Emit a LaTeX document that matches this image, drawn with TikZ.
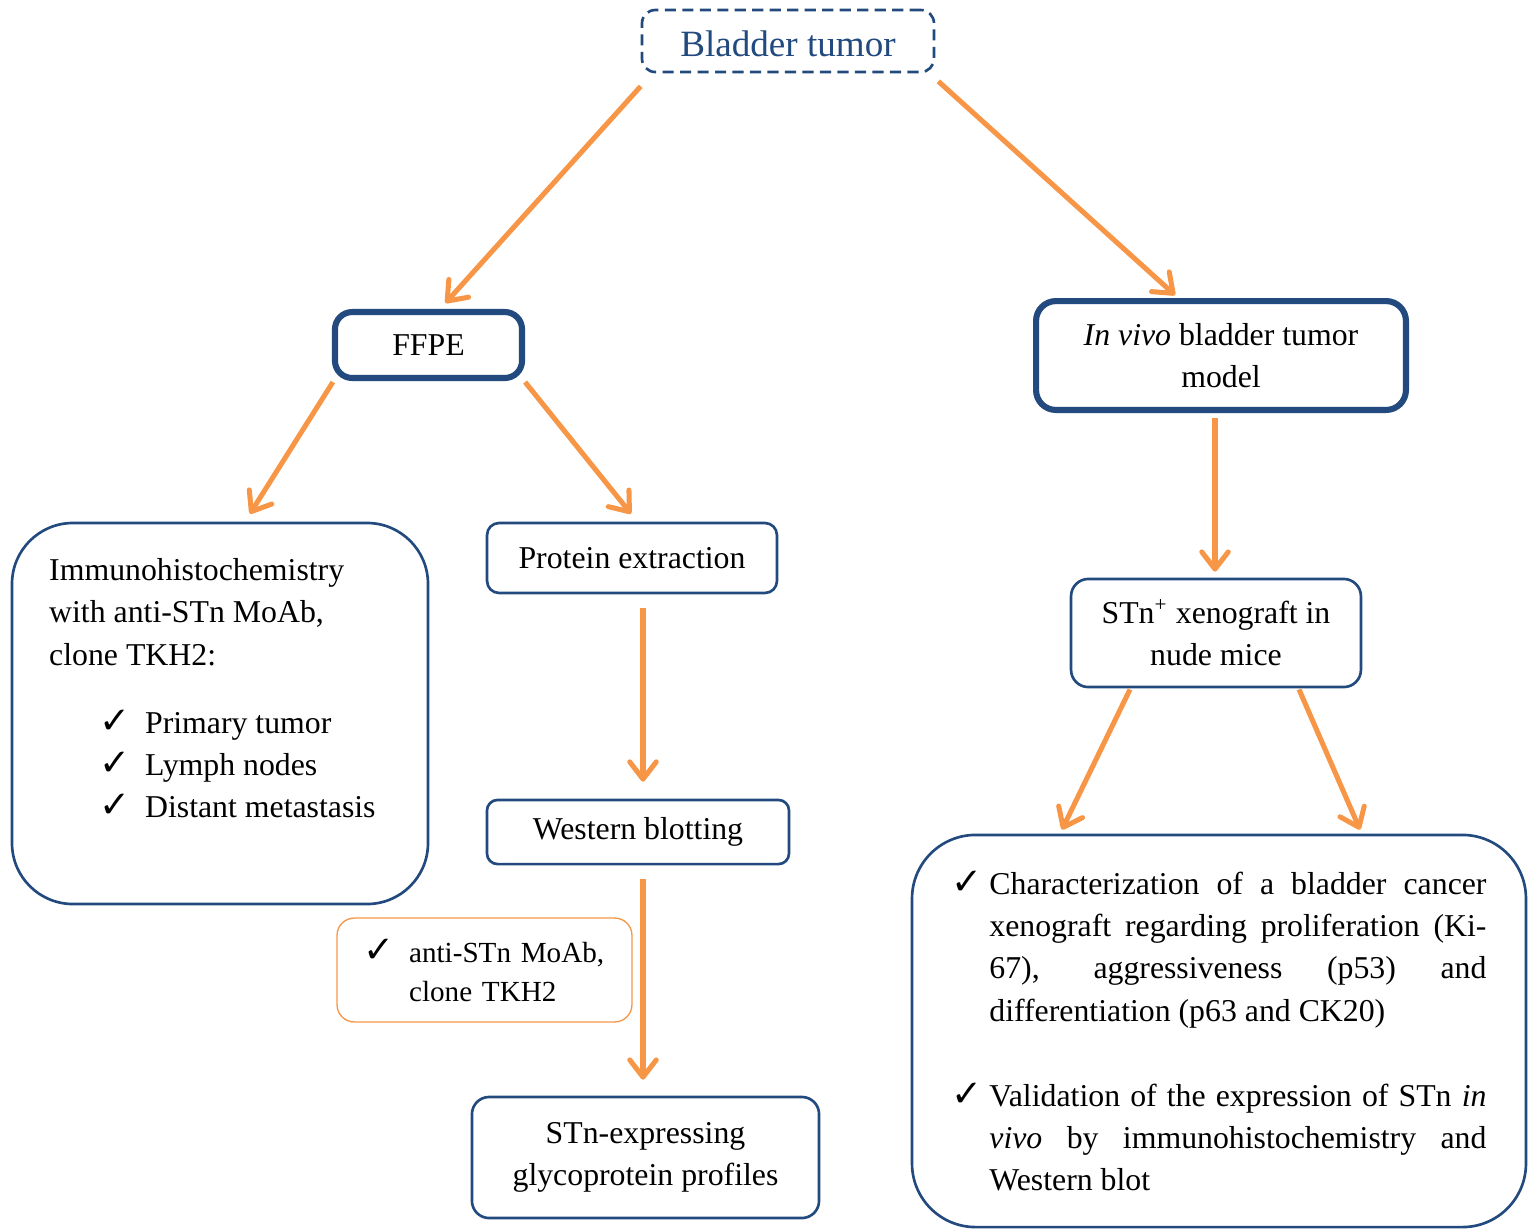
\documentclass[tikz,border=0pt]{standalone}
\usepackage{amsmath}
\usepackage{amssymb}
\usepackage{fontspec}
\setmainfont{Liberation Serif}
\newfontfamily\ticksymbol{DejaVu Sans}
\usepackage{tikz}
\usetikzlibrary{calc, positioning, arrows.meta}
\definecolor{boxblue}{RGB}{34,74,126}
\definecolor{arrorange}{RGB}{247,150,70}
\newcommand{\tick}{{\ticksymbol\fontsize{14}{14}\selectfont ✓}}
\tikzstyle{arrow} = [line width=1.9pt, arrorange, -{Straight Barb[length=6.5pt,width=10pt,round]}]
\tikzstyle{box} = [draw=boxblue, line width=1pt, rounded corners=5pt, inner sep=0pt, align=center, font=\fontsize{12}{16}\selectfont]
\tikzstyle{thickbox} = [box, line width=2.3pt, rounded corners=6.5pt]
\tikzstyle{bigbox} = [box, rounded corners=23pt]

\begin{document}
\begin{tikzpicture}[x=0.3774pt, y=-0.3774pt]
    \useasboundingbox (0,0) rectangle (1528,1229);
    % top
    \node[box, dashed, dash pattern=on 4.2pt off 2.4pt, text=boxblue, font=\fontsize{14}{17}\selectfont,
        minimum width=110.2pt, minimum height=23.4pt, text height=12pt, text depth=0pt] (bt) at (788,41) {Bladder tumor};
    \node[thickbox, minimum width=70.6pt, minimum height=24.9pt] (ffpe) at (428.5,345) {FFPE};
    \node[thickbox, rounded corners=7.5pt, minimum width=139.6pt, minimum height=41.1pt] (invivo) at (1221,355.5)
        {\textit{In vivo} bladder tumor\\model};
    % left branch
    \node[bigbox, minimum width=157pt, minimum height=143.8pt] (ihc) at (220,713.5) {};
    \node[anchor=north west, inner sep=0pt, align=left, font=\fontsize{12}{16}\selectfont] (ihctext)
        at ($(ihc.north west)+(38,36)$)
        {Immunohistochemistry\\with anti-STn MoAb,\\clone TKH2:\\[9.7pt]
         \hspace*{18.9pt}\makebox[17.3pt][l]{\tick}Primary tumor\\
         \hspace*{18.9pt}\makebox[17.3pt][l]{\tick}Lymph nodes\\
         \hspace*{18.9pt}\makebox[17.3pt][l]{\tick}Distant metastasis};
    % middle branch
    \node[box, rounded corners=4.5pt, minimum width=109.4pt, minimum height=26.4pt] (prot) at (632,558) {Protein extraction};
    \node[box, rounded corners=4pt, minimum width=114pt, minimum height=24.2pt] (wb) at (638,832) {Western blotting};
    \node[box, draw=arrorange, line width=0.5pt, rounded corners=6.5pt, text width=111.3pt, align=left,
        minimum height=39.2pt, font=\fontsize{11}{14.7}\selectfont] (mab) at (484.5,970)
        {\hspace*{9.8pt}\makebox[17.4pt][l]{\tick}anti-STn MoAb,\\\hspace*{27.2pt}clone TKH2};
    \node[box, rounded corners=6.5pt, minimum width=131pt, minimum height=45.7pt] (stnexp) at (645.5,1157.5)
        {STn-expressing\\glycoprotein profiles};
    % right branch
    \node[box, rounded corners=6.5pt, minimum width=109.4pt, minimum height=40.8pt] (xeno) at (1216,633)
        {STn\textsuperscript{+} xenograft in\\nude mice};
    \node[bigbox, rounded corners=24pt, align=justify, text width=201.9pt, minimum width=231.7pt,
        minimum height=148pt] (valid) at (1219,1031)
        {\hangindent=14.3pt\hangafter=1\noindent\makebox[14.3pt][l]{\tick}Characterization of a bladder cancer\linebreak
         xenograft regarding proliferation (Ki-\linebreak 67), aggressiveness (p53) and\linebreak
         differentiation (p63 and CK20)\par
         \vspace{16pt}
         \hangindent=14.3pt\hangafter=1\noindent\makebox[14.3pt][l]{\tick}Validation of the expression of STn \textit{in}\linebreak
         \textit{vivo} by immunohistochemistry and\linebreak Western blot\par};
    % arrows
    \draw[arrow] ($(bt.south west)+(0,13)$) -- ($(ffpe.north)+(17,-6)$);
    \draw[arrow] ($(bt.south east)+(3,8)$) -- ($(invivo.north)+(-46,-3)$);
    \draw[arrow] ($(ffpe.south west)+(1,1)$) -- ($(ihc.north)+(30,-8)$);
    \draw[arrow] ($(ffpe.south east)+(0,1)$) -- ($(prot.north)+(-1,-8)$);
    \draw[arrow] ($(prot.south)+(11,14)$) -- ($(wb.north)+(5,-17)$);
    \draw[arrow] ($(wb.south)+(5,14)$) -- ($(stnexp.north)+(-2.5,-16)$);
    \draw[arrow] ($(invivo.south)+(-6,5)$) -- ($(xeno.north)+(-1,-6)$);
    \draw[arrow] ($(xeno.south)+(-86,1)$) -- ($(valid.north)+(-157,-4)$);
    \draw[arrow] ($(xeno.south)+(83,1)$) -- ($(valid.north)+(141,-4)$);
\end{tikzpicture}
\end{document}
